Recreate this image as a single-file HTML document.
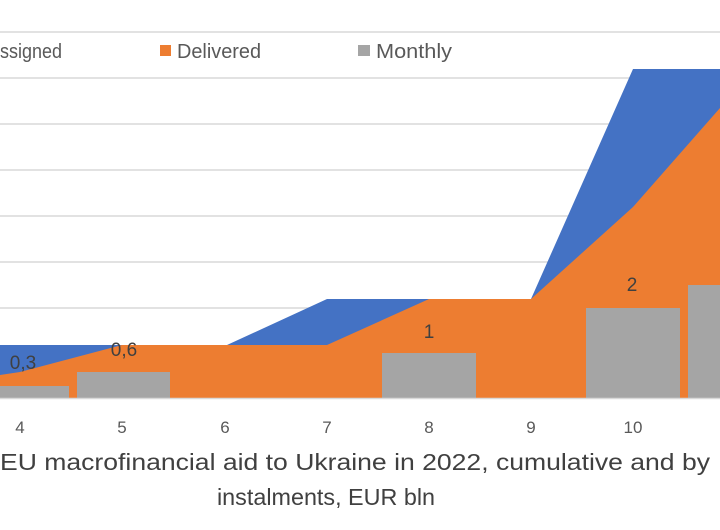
<!DOCTYPE html>
<html><head><meta charset="utf-8"><style>
body{margin:0;background:#fff;}
svg{display:block;font-family:"Liberation Sans",sans-serif;}
</style></head><body>
<svg width="720" height="530" viewBox="0 0 720 530">
<rect width="720" height="530" fill="#fff"/>
<g stroke="#d9d9d9" stroke-width="1.5">
<line x1="0" y1="32" x2="720" y2="32"/>
<line x1="0" y1="78" x2="720" y2="78"/>
<line x1="0" y1="124" x2="720" y2="124"/>
<line x1="0" y1="170" x2="720" y2="170"/>
<line x1="0" y1="216" x2="720" y2="216"/>
<line x1="0" y1="262" x2="720" y2="262"/>
<line x1="0" y1="308" x2="720" y2="308"/>
<line x1="0" y1="353" x2="720" y2="353"/>
</g>
<polygon fill="#4472c4" points="0,345 227,345 327,299 531,299 633,69 720,69 720,398 0,398"/>
<polygon fill="#ed7d31" points="0,375 20,372 122,345 327,345 429,299 531,299 633,207 720,108 720,398 0,398"/>
<g fill="#a5a5a5">
<rect x="0" y="386" width="69" height="12"/>
<rect x="77" y="372" width="93" height="26"/>
<rect x="382" y="353" width="94" height="45"/>
<rect x="586" y="308" width="94" height="90"/>
<rect x="688" y="285" width="32" height="113"/>
</g>
<line x1="0" y1="398.5" x2="720" y2="398.5" stroke="#d9d9d9" stroke-width="1.5"/>
<g fill="#404040" font-size="19" text-anchor="middle">
<text x="23" y="369">0,3</text>
<text x="124" y="356">0,6</text>
<text x="429" y="338">1</text>
<text x="632" y="291">2</text>
</g>
<g fill="#595959" font-size="17" text-anchor="middle">
<text x="20" y="433">4</text>
<text x="122" y="433">5</text>
<text x="225" y="433">6</text>
<text x="327" y="433">7</text>
<text x="429" y="433">8</text>
<text x="531" y="433">9</text>
<text x="633" y="433">10</text>
</g>
<g fill="#595959" font-size="20">
<text x="0" y="58" textLength="62" lengthAdjust="spacingAndGlyphs">ssigned</text>
<rect x="160" y="45" width="11" height="11" fill="#ed7d31"/>
<text x="177" y="58" textLength="84" lengthAdjust="spacingAndGlyphs">Delivered</text>
<rect x="358" y="45" width="12" height="11" fill="#a5a5a5"/>
<text x="376" y="58" textLength="76" lengthAdjust="spacingAndGlyphs">Monthly</text>
</g>
<g fill="#404040" font-size="23">
<text x="0" y="470" textLength="710" lengthAdjust="spacingAndGlyphs">EU macrofinancial aid to Ukraine in 2022, cumulative and by</text>
<text x="217" y="505" textLength="218" lengthAdjust="spacingAndGlyphs">instalments, EUR bln</text>
</g>
</svg>
</body></html>
